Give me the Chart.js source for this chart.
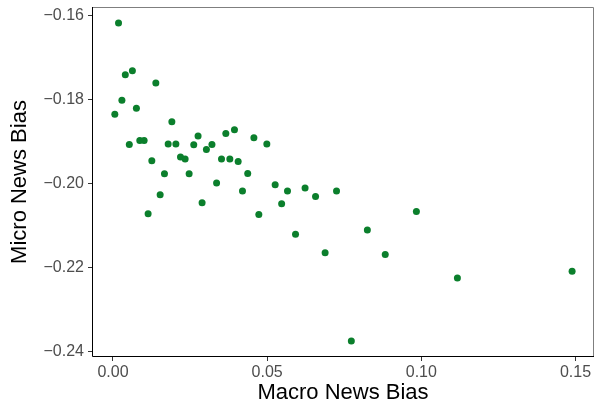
<!DOCTYPE html>
<html lang="en">
<head>
	<title>Macro vs Micro News Bias</title>
	<style>
		html, body { margin: 0; padding: 0; background: #fff; overflow: hidden; }
	</style>
</head>
<body>
	<canvas id="c1" width="595" height="401"></canvas>
	<script src="https://cdn.jsdelivr.net/npm/chart.js@4/dist/chart.umd.min.js"></script>
	<script>
	// one entry per dot
	var macroBias = [
		0.0006, 0.0018, 0.0029, 0.0040, 0.0063, 0.0053, 0.0076, 0.0087, 0.0101, 0.0139,
		0.0114, 0.0126, 0.0153, 0.0167, 0.0179, 0.0191, 0.0204, 0.0219, 0.0234, 0.0247,
		0.0262, 0.0276, 0.0289, 0.0303, 0.0321, 0.0336, 0.0352, 0.0366, 0.0379, 0.0394,
		0.0406, 0.0420, 0.0437, 0.0457, 0.0473, 0.0499, 0.0526, 0.0547, 0.0566, 0.0592,
		0.0623, 0.0657, 0.0688, 0.0725, 0.0773, 0.0825, 0.0883, 0.0984, 0.1117, 0.1489
	];
	var microBias = [
		-0.1834, -0.1617, -0.1801, -0.1740, -0.1731, -0.1906, -0.1820, -0.1897, -0.1897, -0.1760,
		-0.2071, -0.1945, -0.2026, -0.1976, -0.1905, -0.1852, -0.1905, -0.1936, -0.1941, -0.1976,
		-0.1907, -0.1886, -0.2045, -0.1918, -0.1906, -0.1998, -0.1941, -0.1880, -0.1941, -0.1871,
		-0.1947, -0.2017, -0.1975, -0.1890, -0.2073, -0.1905, -0.2002, -0.2047, -0.2017, -0.2120,
		-0.2010, -0.2030, -0.2164, -0.2017, -0.2374, -0.2110, -0.2168, -0.2066, -0.2224, -0.2208
	];
	var xTicks = [0, 0.05, 0.10, 0.15];
	var yTicks = [-0.24, -0.22, -0.20, -0.18, -0.16];

	var points = macroBias.map(function(x, i) {
		return {x: x, y: microBias[i]};
	});

	// panel border: black axis lines left/bottom, grey frame top/right
	var panelBorder = {
		id: 'panelBorder',
		afterDraw: function(chart) {
			var a = chart.chartArea, ctx = chart.ctx;
			ctx.save();
			ctx.lineWidth = 1;
			ctx.strokeStyle = '#7f7f7f';
			ctx.beginPath();
			ctx.moveTo(a.left, a.top + 0.5);
			ctx.lineTo(a.right - 0.5, a.top + 0.5);
			ctx.lineTo(a.right - 0.5, a.bottom);
			ctx.stroke();
			ctx.strokeStyle = '#000';
			ctx.beginPath();
			ctx.moveTo(a.left + 0.5, a.top);
			ctx.lineTo(a.left + 0.5, a.bottom - 0.5);
			ctx.lineTo(a.right, a.bottom - 0.5);
			ctx.stroke();
			ctx.restore();
		}
	};

	function fmt(v) {
		return (v < 0 ? '\u2212' : '') + Math.abs(v).toFixed(2);
	}

	function noPad(s) {
		s.paddingTop = 0;
		s.paddingBottom = 0;
		s.paddingLeft = 0;
		s.paddingRight = 0;
	}

	var config = {
		type: 'scatter',
		plugins: [panelBorder],
		data: {
			datasets: [{
				data: points,
				backgroundColor: '#0b7f2c',
				borderColor: '#0b7f2c',
				borderWidth: 0,
				pointRadius: 3.5
			}]
		},
		options: {
			responsive: false,
			animation: false,
			layout: { autoPadding: false, padding: { top: 7, right: 1, left: 0, bottom: 0 } },
			plugins: { legend: { display: false }, tooltip: { enabled: false } },
			scales: {
				x: {
					type: 'linear',
					min: -0.0068,
					max: 0.156,
					afterBuildTicks: function(s) { s.ticks = xTicks.map(function(v) { return {value: v}; }); },
					afterFit: function(s) { s.height = 44; noPad(s); },
					grid: { drawOnChartArea: false, tickLength: 4, tickColor: '#333', color: '#333' },
					border: { display: false },
					ticks: {
						callback: fmt,
						color: '#4d4d4d',
						padding: 2,
						maxRotation: 0,
						font: { family: 'Liberation Sans, Arial, sans-serif', size: 16 }
					},
					title: {
						display: true,
						text: 'Macro News Bias',
						color: '#000',
						padding: { top: 0, bottom: 0 },
						font: { family: 'Liberation Sans, Arial, sans-serif', size: 22, lineHeight: 0.75 }
					}
				},
				y: {
					type: 'linear',
					min: -0.2412,
					max: -0.1579,
					afterBuildTicks: function(s) { s.ticks = yTicks.map(function(v) { return {value: v}; }); },
					afterFit: function(s) { s.width = 92; noPad(s); },
					grid: { drawOnChartArea: false, tickLength: 4, tickColor: '#333', color: '#333' },
					border: { display: false },
					ticks: {
						callback: fmt,
						color: '#4d4d4d',
						padding: 4,
						font: { family: 'Liberation Sans, Arial, sans-serif', size: 16 }
					},
					title: {
						display: true,
						text: 'Micro News Bias',
						color: '#000',
						padding: { top: 7, bottom: 0 },
						font: { family: 'Liberation Sans, Arial, sans-serif', size: 22 }
					}
				}
			}
		}
	};

	var chart = new Chart(document.getElementById('c1'), config);
	</script>
</body>
</html>
